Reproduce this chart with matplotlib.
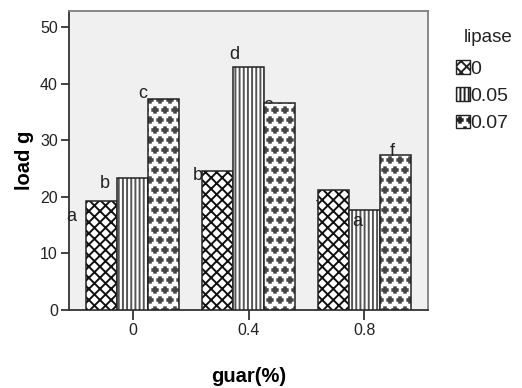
import matplotlib
matplotlib.use('Agg')
import matplotlib.pyplot as plt
import numpy as np
from matplotlib import hatch as mhatch
from matplotlib.path import Path
from matplotlib.patches import Patch

# Data
guar = ['0', '0.4', '0.8']
lipase = ['0', '0.05', '0.07']
load_0 = [19.3, 24.6, 21.2]
load_005 = [23.4, 43.0, 17.7]
load_007 = [37.3, 36.5, 27.3]
letters_0 = ['a', 'b', 'f']
letters_005 = ['b', 'd', 'a']
letters_007 = ['c', 'e', 'f']


# staggered plus-sign hatch, like the SPSS pattern
class PlusHatch(mhatch.Shapes):
    filled = True
    size = 0.27

    def __init__(self, hatch, density):
        # keep the row count even, Shapes needs that
        self.num_rows = hatch.count('p') * 5
        a = 0.3
        v = [(-a, -1), (a, -1), (a, -a), (1, -a), (1, a), (a, a), (a, 1),
             (-a, 1), (-a, a), (-1, a), (-1, -a), (-a, -a), (-a, -1)]
        self.shape_vertices = np.array(v, dtype=float)
        self.shape_codes = np.full(len(v), Path.LINETO, dtype=Path.code_type)
        self.shape_codes[0] = Path.MOVETO
        self.shape_codes[-1] = Path.CLOSEPOLY
        super().__init__(hatch, density)


mhatch._hatch_types.append(PlusHatch)

plt.rcParams['font.family'] = ['Liberation Sans', 'DejaVu Sans']
plt.rcParams['hatch.linewidth'] = 1.4

fig = plt.figure(figsize=(5.22, 3.88), dpi=100)
ax = fig.add_axes([0.1322, 0.201, 0.688, 0.7706])
ax.set_facecolor('#f0f0f0')

x = np.arange(len(guar))
w = 0.267
series = [load_0, load_005, load_007]
letters = [letters_0, letters_005, letters_007]
hatches = ['xxx', '||||', 'pp']
hatch_cols = ['#111111', '#555555', '#444444']

# label offsets (dx in category units, dy in load units) and whether bar covers it
dx = [[-0.26, -0.17, -0.13], [-0.24, -0.12, -0.06], [-0.18, -0.10, -0.03]]
dy = [[-2.7, -0.9, -2.8], [-1.0, 2.1, -2.1], [1.0, -0.4, 0.65]]
behind = [[False, False, True], [False, False, False], [False, True, False]]

for i, vals in enumerate(series):
    pos = x + (i - 1) * w
    ax.bar(pos, vals, w, facecolor='white', edgecolor=hatch_cols[i],
           hatch=hatches[i], linewidth=0, zorder=3)
    ax.bar(pos, vals, w, facecolor='none', edgecolor='#222222', linewidth=1.1,
           zorder=3)
    for j in range(len(vals)):
        ax.text(pos[j] + dx[i][j], vals[j] + dy[i][j], letters[i][j],
                ha='center', va='center', fontsize=13, color='#222222',
                zorder=2 if behind[i][j] else 4)

ax.set_xlim(-0.55, 2.55)
ax.set_ylim(0, 52.8)
ax.set_xticks(x)
ax.set_xticklabels(guar)
ax.set_yticks([0, 10, 20, 30, 40, 50])
ax.tick_params(axis='both', direction='out', length=6, width=1.2,
               labelsize=11.5, colors='#222222', pad=2)
ax.tick_params(axis='x', length=7)
for s in ['left', 'bottom']:
    ax.spines[s].set_color('#333333')
    ax.spines[s].set_linewidth(1.3)
for s in ['top', 'right']:
    ax.spines[s].set_color('#808080')
    ax.spines[s].set_linewidth(1.3)

ax.set_xlabel('guar(%)', fontsize=14.5, fontweight='bold', labelpad=21)
ax.set_ylabel('load g', fontsize=14.5, fontweight='bold', labelpad=4)

# legend
fig.text(488 / 522, 1 - 38 / 388, 'lipase', ha='center', va='center',
         fontsize=13.5, color='#222222')
handles = [Patch(facecolor='white', edgecolor=hatch_cols[k], hatch=hatches[k])
           for k in range(3)]
leg = fig.legend(handles, lipase, loc='upper left',
                 bbox_to_anchor=(456 / 522, 1 - 60 / 388), frameon=False,
                 fontsize=14, handlelength=0.7, handleheight=0.7,
                 handletextpad=0.05, labelspacing=0.5, borderpad=0,
                 borderaxespad=0)
for t in leg.get_texts():
    t.set_color('#222222')
for p in leg.get_patches():
    p.set_linewidth(1.0)
    p.set_edgecolor('#222222')

fig.savefig('out.png', dpi=100)
